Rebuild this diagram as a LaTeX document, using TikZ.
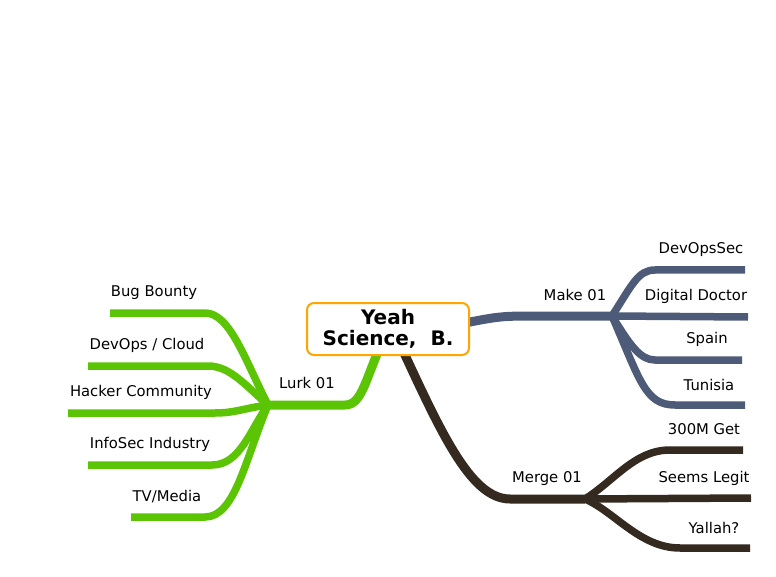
\documentclass[tikz,border=0pt]{standalone}
\usepackage{fontspec}
\setmainfont{DejaVu Sans}
\definecolor{lgreen}{HTML}{5BC405}
\definecolor{slate}{HTML}{4E5B78}
\definecolor{dbrown}{HTML}{342A20}
\definecolor{orng}{HTML}{FFA500}
\begin{document}
\begin{tikzpicture}[x=1pt,y=-1pt,
  mainbr/.style={line width=9pt},
  subbr/.style={line width=7.5pt},
  lbl/.style={font=\fontsize{14.8}{17}\selectfont, inner sep=0pt, anchor=center},
  root/.style={draw=orng, line width=2pt, rounded corners=7pt, fill=white,
    minimum width=162pt, minimum height=52pt, align=center,
    font=\fontsize{20}{21.5}\selectfont\bfseries, inner sep=0pt}]
\useasboundingbox (0,0) rectangle (776,577);
% hubs and ends
\coordinate (lurkA) at (345,405);
\coordinate (lurk) at (268,405);
\coordinate (makeA) at (540,316);
\coordinate (make) at (612,316);
\coordinate (mergeA) at (510,499);
\coordinate (merge) at (585,499);
\coordinate (rootL) at (383,340);
\coordinate (rootR) at (455,325);
\coordinate (rootB) at (398,340);
% main branches
\draw[mainbr, slate] (rootR) .. controls (500,316) .. (makeA) -- (make);
\draw[mainbr, lgreen] (rootL) .. controls (365,380) and (362,405) .. (lurkA) -- (lurk);
\draw[mainbr, dbrown] (rootB) .. controls (440,430) and (470,499) .. (mergeA) -- (merge);
% Make children
\coordinate (m1a) at (655,270); \coordinate (m1) at (745,270);
\coordinate (m2) at (748,317);
\coordinate (m3a) at (655,360); \coordinate (m3) at (742,360);
\coordinate (m4a) at (675,405); \coordinate (m4) at (745,405);
\draw[subbr, slate] (make) .. controls (632,285) and (638,270) .. (m1a) -- (m1);
\draw[subbr, slate] (make) -- (m2);
\draw[subbr, slate] (make) .. controls (630,345) and (640,360) .. (m3a) -- (m3);
\draw[subbr, slate] (make) .. controls (640,380) and (645,405) .. (m4a) -- (m4);
% Lurk children
\coordinate (l1a) at (205,313); \coordinate (l1) at (110,313);
\coordinate (l2a) at (208,366); \coordinate (l2) at (88,366);
\coordinate (l3a) at (215,413); \coordinate (l3) at (68,413);
\coordinate (l4a) at (212,465); \coordinate (l4) at (88,465);
\coordinate (l5a) at (205,517); \coordinate (l5) at (131,517);
\draw[subbr, lgreen] (lurk) .. controls (245,360) and (230,313) .. (l1a) -- (l1);
\draw[subbr, lgreen] (lurk) .. controls (245,385) and (230,366) .. (l2a) -- (l2);
\draw[subbr, lgreen] (lurk) .. controls (245,408) and (235,413) .. (l3a) -- (l3);
\draw[subbr, lgreen] (lurk) .. controls (250,430) and (240,465) .. (l4a) -- (l4);
\draw[subbr, lgreen] (lurk) .. controls (245,460) and (235,517) .. (l5a) -- (l5);
% Merge children
\coordinate (g1a) at (670,450); \coordinate (g1) at (743,450);
\coordinate (g2) at (751,498);
\coordinate (g3a) at (680,548); \coordinate (g3) at (750,548);
\draw[subbr, dbrown] (merge) .. controls (615,480) and (635,450) .. (g1a) -- (g1);
\draw[subbr, dbrown] (merge) -- (g2);
\draw[subbr, dbrown] (merge) .. controls (615,512) and (640,548) .. (g3a) -- (g3);
% root
\node[root] (r) at (388,329) {Yeah\\Science,\ \ B.};
% labels
\node[lbl] (tmake) at (575,294.5) {Make 01};
\node[lbl] (tlurk) at (307,382.5) {Lurk 01};
\node[lbl] (tmerge) at (547,478.5) {Merge 01};
\node[lbl] (t1) at (701,249.5) {DevOpsSec};
\node[lbl] (t2) at (696,296.5) {Digital Doctor};
\node[lbl] (t3) at (707,339.5) {Spain};
\node[lbl] (t4) at (709,384.5) {Tunisia};
\node[lbl] (t5) at (154,292.5) {Bug Bounty};
\node[lbl] (t6) at (147,345.5) {DevOps / Cloud};
\node[lbl] (t7) at (141,392.5) {Hacker Community};
\node[lbl] (t8) at (150,444.5) {InfoSec Industry};
\node[lbl] (t9) at (167,496.5) {TV/Media};
\node[lbl] (t10) at (704,429.5) {300M Get};
\node[lbl] (t11) at (704,478.5) {Seems Legit};
\node[lbl] (t12) at (714,527.5) {Yallah?};
\end{tikzpicture}
\end{document}
